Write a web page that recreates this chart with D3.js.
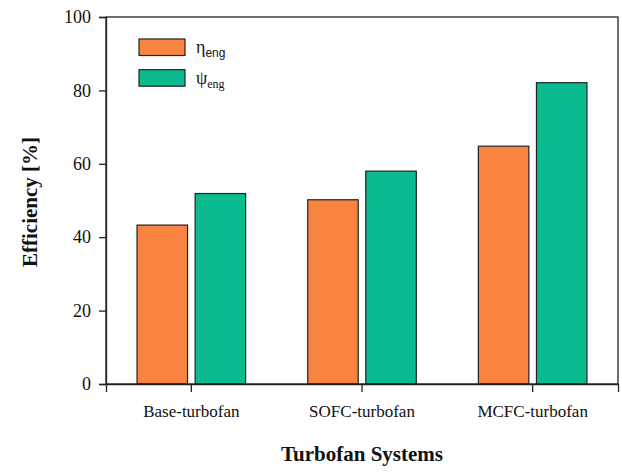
<!DOCTYPE html>
<html><head><meta charset="utf-8">
<script src="https://cdn.jsdelivr.net/npm/d3@7"></script>
<style>body{margin:0;background:#fff}svg{display:block}</style>
</head><body>
<script>
const categories = ["Base-turbofan", "SOFC-turbofan", "MCFC-turbofan"];
const seriesNames = ["η", "ψ"];
const etaEng = [43.3, 50.2, 64.8];
const psiEng = [51.9, 58.0, 82.1];
const yTicks = [0, 20, 40, 60, 80, 100];
const colors = ["#f98442", "#09bb8f"];

const W = 622, H = 473;
const m = {left: 106, right: 4, top: 17, bottom: 89};
const svg = d3.select("body").append("svg").attr("width", W).attr("height", H);
const font = "'Liberation Serif', 'Times New Roman', serif";

const x = d3.scaleBand().domain(categories).range([m.left, W - m.right]).padding(0);
const y = d3.scaleLinear().domain([0, 100]).range([H - m.bottom, m.top]);
const series = [etaEng, psiEng];

const barW = 50.5, gap = 7.6;
const g = svg.append("g");
series.forEach((vals, si) => {
  g.selectAll(null).data(categories).enter().append("rect")
    .attr("x", (d, i) => x(d) + x.bandwidth() / 2 + (si === 0 ? -gap / 2 - barW : gap / 2))
    .attr("y", (d, i) => y(vals[i]))
    .attr("width", barW)
    .attr("height", (d, i) => y(0) - y(vals[i]))
    .attr("fill", colors[si])
    .attr("stroke", "#222").attr("stroke-width", 1.2);
});

svg.append("rect").attr("x", m.left).attr("y", m.top)
  .attr("width", W - m.right - m.left).attr("height", y(0) - m.top)
  .attr("fill", "none").attr("stroke", "#222").attr("stroke-width", 1.3);

const yAxis = svg.append("g").attr("transform", `translate(${m.left},0)`)
  .call(d3.axisLeft(y).tickValues(yTicks).tickSize(7).tickPadding(8));
const xAxis = svg.append("g").attr("transform", `translate(0,${y(0)})`)
  .call(d3.axisBottom(x).tickSize(8).tickPadding(13));
[yAxis, xAxis].forEach(a => {
  a.attr("font-family", null).attr("font-size", null);
  a.select(".domain").attr("stroke", "#222").attr("stroke-width", 1.3);
  a.selectAll(".tick line").attr("stroke", "#222").attr("stroke-width", 1.3);
  a.selectAll("text").style("font-family", font).attr("fill", "#111");
});
yAxis.selectAll("text").style("font-size", "18px");
xAxis.selectAll("text").style("font-size", "17px");

svg.append("text").attr("x", (m.left + W - m.right) / 2).attr("y", 461)
  .attr("text-anchor", "middle").style("font-family", font).attr("font-weight", "bold")
  .style("font-size", "21px").attr("fill", "#111").text("Turbofan Systems");
svg.append("text").attr("transform", "translate(37,202) rotate(-90)")
  .attr("text-anchor", "middle").style("font-family", font).attr("font-weight", "bold")
  .style("font-size", "21px").attr("fill", "#111").text("Efficiency [%]");

const leg = svg.append("g");
seriesNames.forEach((n, i) => {
  const yy = 39 + i * 30.7;
  leg.append("rect").attr("x", 139).attr("y", yy).attr("width", 46).attr("height", 16.5)
    .attr("fill", colors[i]).attr("stroke", "#222").attr("stroke-width", 1.2);
  const t = leg.append("text").attr("x", 196).attr("y", yy + 14)
    .style("font-family", font).style("font-size", "18px").attr("fill", "#111");
  t.append("tspan").text(n);
  t.append("tspan").attr("dy", 4).style("font-size", "12px")
    .style("font-family", i === 0 ? "'Liberation Sans', Arial, sans-serif" : font).text("eng");
});
</script>
</body></html>
